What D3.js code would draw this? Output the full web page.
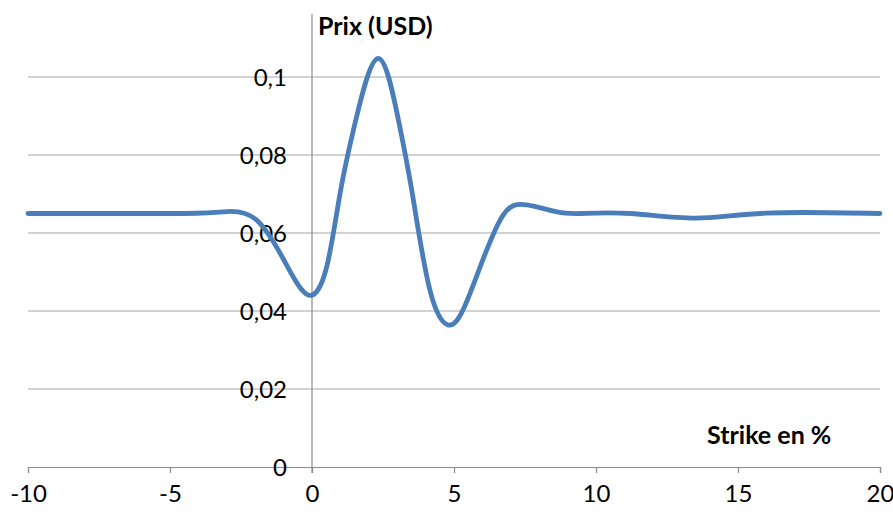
<!DOCTYPE html>
<html>
<head>
<meta charset="utf-8">
<script src="https://cdn.jsdelivr.net/npm/d3@7"></script>
<style>
  html, body { margin: 0; padding: 0; background: #fff; }
  svg { display: block; }
  text { font-family: Lato, "Open Sans", sans-serif; fill: #000; }
</style>
</head>
<body>
<svg id="chart" width="893" height="514"></svg>
<script>
// Option price versus strike (%)
const strike = [-10, -4.5, -3, -2.0, -1.0, -0.13, 0.52, 0.99, 1.57, 2.34, 3.02, 3.53, 4.15, 4.8, 5.32, 5.92, 6.73, 7.57, 8.63, 9.5, 11.2, 13.5, 16, 20];
const price  = [0.0650, 0.0650, 0.0655, 0.0636, 0.0532, 0.0441, 0.0514, 0.0702, 0.0898, 0.1048, 0.0898, 0.0702, 0.0454, 0.0364, 0.0403, 0.0513, 0.0646, 0.0672, 0.0654, 0.0650, 0.0650, 0.0638, 0.0651, 0.0650];

const xTicks = [-10, -5, 0, 5, 10, 15, 20];
const yTicks = [0, 0.02, 0.04, 0.06, 0.08, 0.1];
const yTickLabels = ["0", "0,02", "0,04", "0,06", "0,08", "0,1"];
const xTitle = "Strike en %";
const yTitle = "Prix (USD)";

const svg = d3.select("#chart");
const x = d3.scaleLinear().domain([-10, 20]).range([28, 880]);
const y = d3.scaleLinear().domain([0, 0.1]).range([467, 77]);

// horizontal gridlines
svg.append("g").selectAll("line")
  .data(yTicks.filter(d => d > 0))
  .join("line")
  .attr("x1", x(-10)).attr("x2", x(20))
  .attr("y1", d => y(d)).attr("y2", d => y(d))
  .attr("stroke", "#a6a6a6").attr("stroke-width", 1.2);

// x axis with downward ticks
const xAxis = d3.axisBottom(x).tickValues(xTicks).tickSize(6).tickPadding(12).tickFormat(d3.format("d"));
const gx = svg.append("g").attr("transform", `translate(0,${y(0)})`).call(xAxis);
gx.select(".domain").attr("stroke", "#8c8c8c").attr("stroke-width", 1.2);
gx.selectAll(".tick line").attr("stroke", "#8c8c8c").attr("stroke-width", 1.2);
gx.selectAll(".tick text")
  .attr("font-size", 24).attr("font-family", "Lato, sans-serif").attr("fill", "#000")
  .text(d => d < 0 ? "-" + Math.abs(d) : d);

// vertical axis through strike 0
svg.append("line")
  .attr("x1", x(0)).attr("x2", x(0))
  .attr("y1", 14).attr("y2", y(0) + 6)
  .attr("stroke", "#8c8c8c").attr("stroke-width", 1.2);

// y tick labels
svg.append("g").selectAll("text")
  .data(yTicks)
  .join("text")
  .attr("x", 287)
  .attr("y", d => y(d))
  .attr("dy", "0.36em")
  .attr("text-anchor", "end")
  .attr("font-size", 24)
  .text((d, i) => yTickLabels[i]);

// price curve
const line = d3.line()
  .x((d, i) => x(strike[i]))
  .y(d => y(d))
  .curve(d3.curveNatural);

svg.append("path")
  .datum(price)
  .attr("d", line)
  .attr("fill", "none")
  .attr("stroke", "#4a7ebb")
  .attr("stroke-width", 4.8)
  .attr("stroke-linejoin", "round")
  .attr("stroke-linecap", "round");

// axis titles
svg.append("text")
  .attr("x", 318).attr("y", 35)
  .attr("font-size", 25).attr("font-weight", "bold")
  .text(yTitle);

svg.append("text")
  .attr("x", 707).attr("y", 444)
  .attr("font-size", 25).attr("font-weight", "bold")
  .text(xTitle);
</script>
</body>
</html>
